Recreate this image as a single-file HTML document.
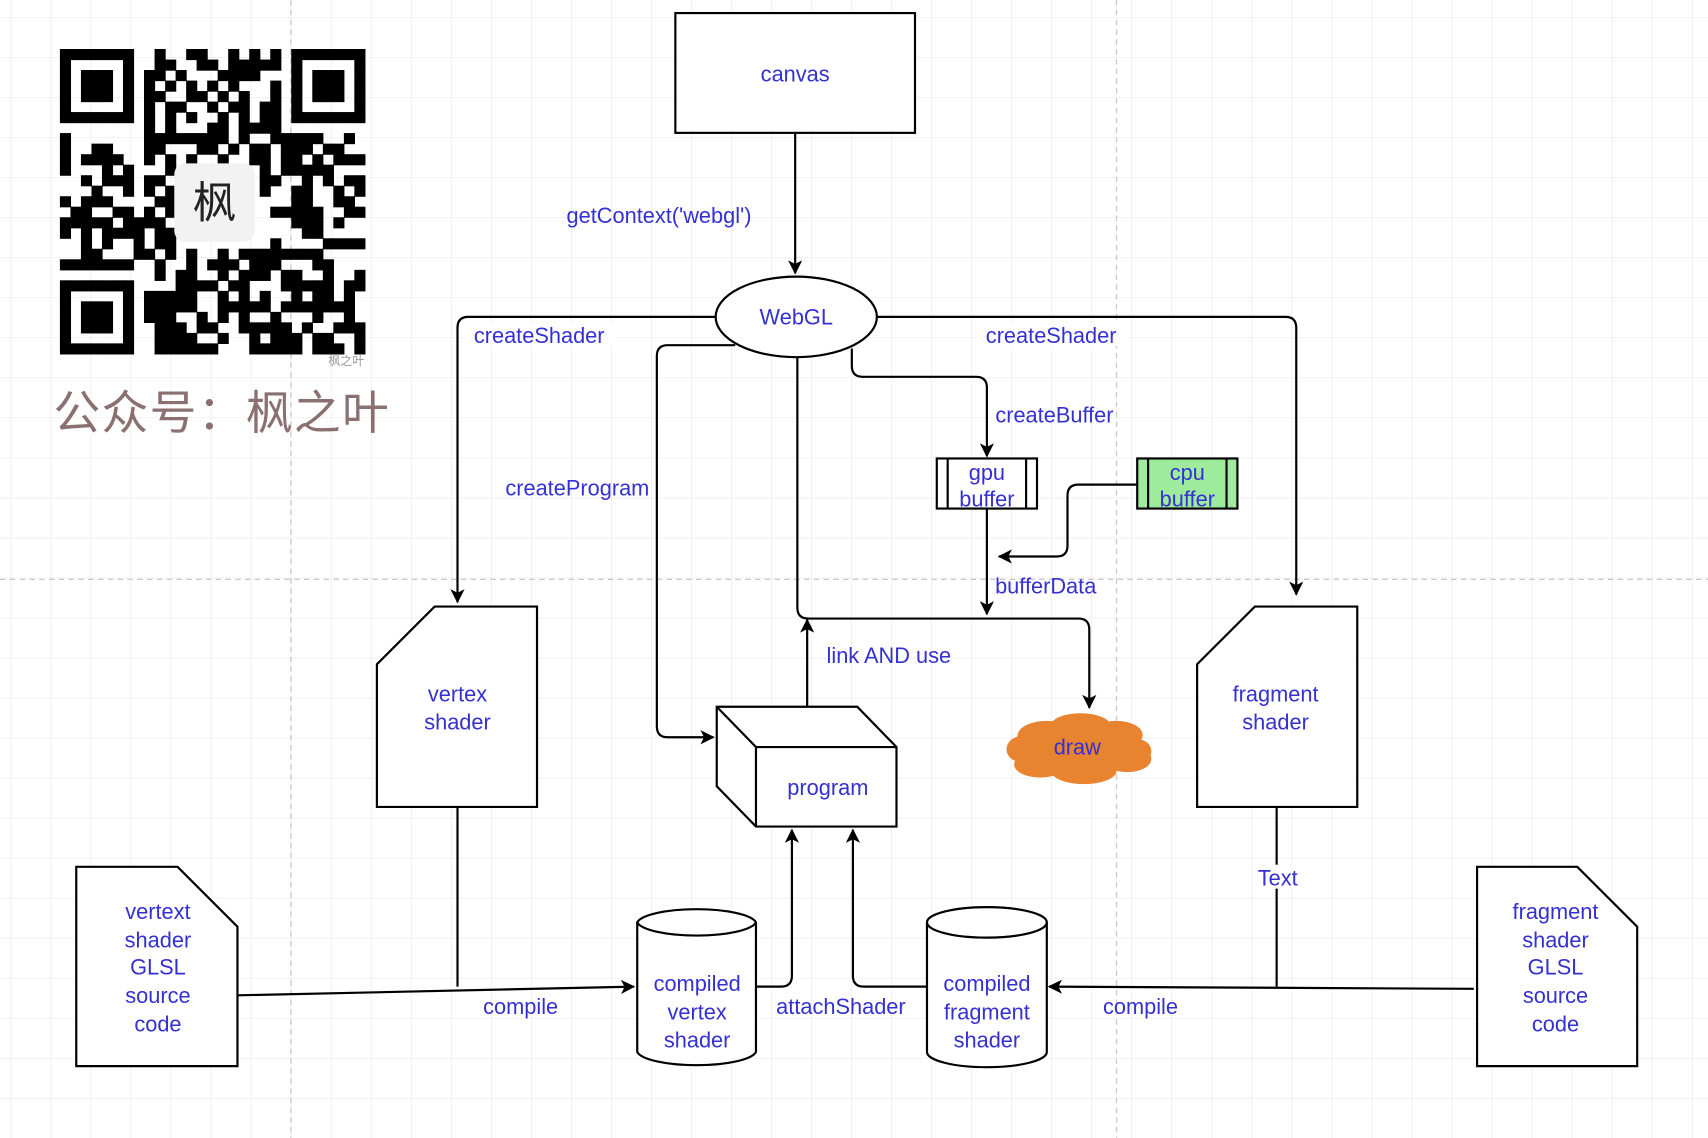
<!DOCTYPE html>
<html><head><meta charset="utf-8"><style>
html,body{margin:0;padding:0;background:#fff;}
svg{display:block;}
text{font-family:"Liberation Sans","Noto Sans CJK SC",sans-serif;font-size:20px;fill:#3530d0;text-anchor:middle;}
</style></head><body>
<svg width="1708" height="1138" viewBox="0 0 1568 1045" preserveAspectRatio="none" xmlns="http://www.w3.org/2000/svg">
<defs>
<pattern id="g" x="9.75" y="16" width="36.75" height="36.75" patternUnits="userSpaceOnUse">
<path d="M0 0H36.75M0 0V36.75" stroke="#e4e4e4" stroke-width="1" fill="none"/>
</pattern>
<marker id="a" viewBox="0 0 12 12" refX="11" refY="6" markerWidth="13" markerHeight="13" markerUnits="userSpaceOnUse" orient="auto">
<path d="M0 0L12 6L0 12L3 6Z" fill="#000"/>
</marker>
</defs>
<rect width="1568" height="1045" fill="url(#g)"/>
<g stroke="#c8c8c8" stroke-dasharray="5 4" stroke-width="1.2">
<line x1="267" y1="0" x2="267" y2="1045"/><line x1="1025" y1="0" x2="1025" y2="1045"/><line x1="0" y1="532" x2="1568" y2="532"/>
</g>
<g id="qr"></g>
<text x="203" y="394" style="font-size:43px;fill:#8a7070;" textLength="308">公众号：枫之叶</text>
<text x="318" y="335" style="font-size:11px;fill:#999">枫之叶</text>

<g fill="none" stroke="#000" stroke-width="2">
<path d="M730 122V251" marker-end="url(#a)"/>
<path d="M657 291H430Q420 291 420 301V553" marker-end="url(#a)"/>
<path d="M805 291H1180Q1190 291 1190 301V546" marker-end="url(#a)"/>
<path d="M675 317H613Q603 317 603 327V667Q603 677 613 677H655" marker-end="url(#a)"/>
<path d="M782 320V336Q782 346 792 346H896Q906 346 906 356V419" marker-end="url(#a)"/>
<path d="M1044 445H990Q980 445 980 455V501Q980 511 970 511H917" marker-end="url(#a)"/>
<path d="M906 467V564" marker-end="url(#a)"/>
<path d="M732 327V558Q732 568 742 568H990Q1000 568 1000 578V650" marker-end="url(#a)"/>
<path d="M741 649V569" marker-end="url(#a)"/>
<path d="M420 741V906"/>
<path d="M218 914L582 906" marker-end="url(#a)"/>
<path d="M1172 741V906"/>
<path d="M1353 908L963 906" marker-end="url(#a)"/>
<path d="M694 906H717Q727 906 727 896V762" marker-end="url(#a)"/>
<path d="M851 906H793Q783 906 783 896V762" marker-end="url(#a)"/>
</g>
<g stroke="#000" stroke-width="2" fill="#fff">
<rect x="620" y="12" width="220" height="110"/>
<ellipse cx="731" cy="291" rx="74" ry="37"/>
<rect x="860" y="421" width="92" height="46"/>
<rect x="1044" y="421" width="92" height="46" fill="#9eeb9e"/>
<path d="M658 649H787L823 686V759H694L658 722Z"/>
<path d="M658 649L694 686H823M694 686V759" fill="none"/>
<path d="M346 610L399 557H493V741H346Z"/>
<path d="M1099 610L1152 557H1246V741H1099Z"/>
<path d="M70 796H163L218 851V979H70Z"/>
<path d="M1356 796H1448L1503 851V979H1356Z"/>
<path d="M585 847V966A55 14 0 0 0 694 966V847A55 14 0 0 0 585 847Z"/>
<path d="M585 847A55 14 0 0 0 694 847" fill="none"/>
<path d="M851 847V966A55 14 0 0 0 961 966V847A55 14 0 0 0 851 847Z"/>
<path d="M851 847A55 14 0 0 0 961 847" fill="none"/>
</g>
<g stroke="#000" stroke-width="2">
<line x1="870" y1="421" x2="870" y2="467"/><line x1="942" y1="421" x2="942" y2="467"/>
<line x1="1054" y1="421" x2="1054" y2="467"/><line x1="1126" y1="421" x2="1126" y2="467"/>
</g>
<g fill="#e8832f">
<ellipse cx="990" cy="688" rx="62" ry="24"/>
<ellipse cx="960" cy="676" rx="26" ry="14"/><ellipse cx="992" cy="667" rx="28" ry="12"/><ellipse cx="1025" cy="675" rx="24" ry="13"/>
<ellipse cx="1035" cy="697" rx="22" ry="12"/><ellipse cx="955" cy="702" rx="24" ry="12"/><ellipse cx="995" cy="708" rx="30" ry="12"/><ellipse cx="938" cy="688" rx="14" ry="12"/><ellipse cx="1045" cy="690" rx="12" ry="11"/>
</g>
<text x="730" y="75">canvas</text>
<text x="731" y="298">WebGL</text>
<text x="605" y="205">getContext('webgl')</text>
<rect x="427" y="296" width="138" height="22" fill="#fff"/>
<text x="495" y="315">createShader</text>
<rect x="897" y="296" width="138" height="22" fill="#fff"/>
<text x="965" y="315">createShader</text>
<text x="530" y="455">createProgram</text>
<text x="968" y="388">createBuffer</text>
<text x="906" y="441">gpu</text><text x="906" y="465">buffer</text>
<text x="1090" y="441">cpu</text><text x="1090" y="465">buffer</text>
<text x="960" y="545">bufferData</text>
<text x="816" y="609">link AND use</text>
<text x="760" y="730">program</text>
<text x="989" y="693">draw</text>
<text x="420" y="644">vertex</text><text x="420" y="670">shader</text>
<text x="1171" y="644">fragment</text><text x="1171" y="670">shader</text>
<text x="145" y="844">vertext</text><text x="145" y="870">shader</text><text x="145" y="895">GLSL</text><text x="145" y="921">source</text><text x="145" y="947">code</text>
<text x="1428" y="844">fragment</text><text x="1428" y="870">shader</text><text x="1428" y="895">GLSL</text><text x="1428" y="921">source</text><text x="1428" y="947">code</text>
<text x="640" y="910">compiled</text><text x="640" y="936">vertex</text><text x="640" y="962">shader</text>
<text x="906" y="910">compiled</text><text x="906" y="936">fragment</text><text x="906" y="962">shader</text>
<text x="478" y="931">compile</text>
<text x="772" y="931">attachShader</text>
<text x="1047" y="931">compile</text>
<rect x="1150" y="794" width="46" height="22" fill="#fff"/>
<text x="1173" y="813">Text</text>
</svg>
<script>
(function(){
var g=document.getElementById('qr'),N=29,x0=55,y0=45,m=280/N,s=98765,h='';
function r(){s=(s*1103515245+12345)&0x7fffffff;return s/0x7fffffff;}
function fin(i,j){return (i<8&&j<8)||(i<8&&j>=N-8)||(i>=N-8&&j<8);}
for(var i=0;i<N;i++)for(var j=0;j<N;j++){
 var on;
 if(fin(i,j)){var a=i<8?i:i-(N-7),b=j<8?j:j-(N-7);
  if(a<0||b<0||a>6||b>6)on=false;else{var d=Math.max(Math.abs(a-3),Math.abs(b-3));on=(d!=2);}}
 else on=r()<0.55;
 var cx=x0+j*m,cy=y0+i*m;
 if(cx>158&&cx<232&&cy>148&&cy<222)on=false;
 if(on)h+='<rect x="'+cx.toFixed(1)+'" y="'+cy.toFixed(1)+'" width="'+(m+0.5).toFixed(1)+'" height="'+(m+0.5).toFixed(1)+'" fill="#000"/>';
}
h+='<rect x="160" y="150" width="74" height="72" rx="10" fill="#f2f2f2"/><text x="197" y="200" style="font-size:40px;fill:#222">枫</text>';
g.innerHTML=h;
})();
</script>
</body></html>
